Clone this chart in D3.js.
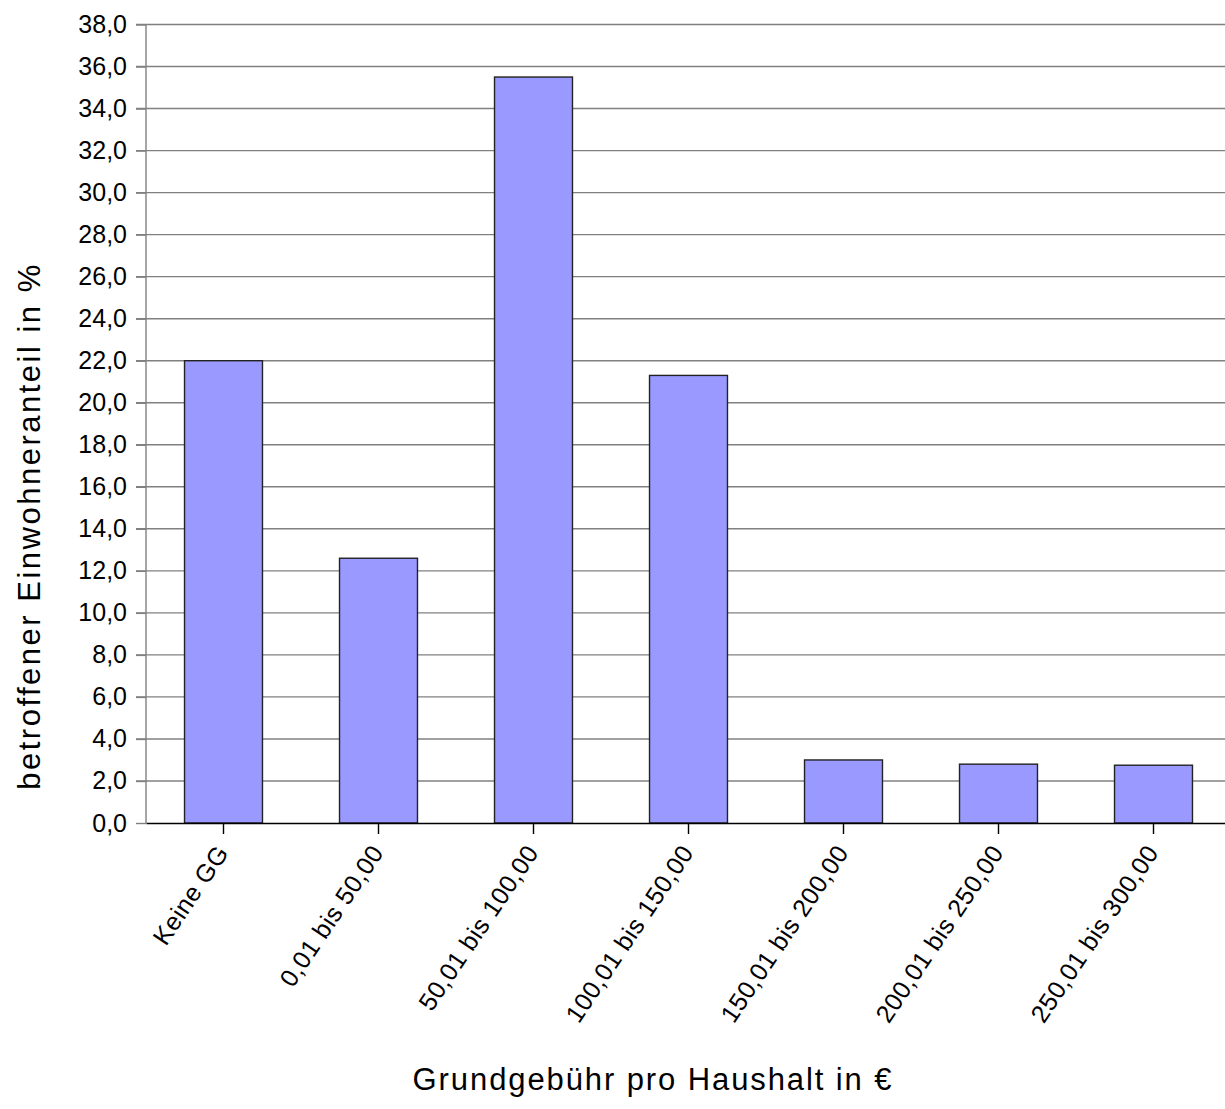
<!DOCTYPE html>
<html>
<head>
<meta charset="utf-8">
<script src="https://cdn.jsdelivr.net/npm/d3@7"></script>
<style>
  body { margin: 0; background: #fff; }
  text { font-family: "Liberation Sans", Arial, sans-serif; fill: #000; }
</style>
</head>
<body>
<div id="svgContainer"></div>
<script>
// chart data
var categories = ["Keine GG", "0,01 bis 50,00", "50,01 bis 100,00", "100,01 bis 150,00",
                  "150,01 bis 200,00", "200,01 bis 250,00", "250,01 bis 300,00"];
var values = [22.0, 12.6, 35.5, 21.3, 3.0, 2.8, 2.75];
var yTicks = [0, 2, 4, 6, 8, 10, 12, 14, 16, 18, 20, 22, 24, 26, 28, 30, 32, 34, 36, 38];

var margin = {top: 24.5, right: -6, bottom: 286, left: 146},
    totalW = 1225, totalH = 1109,
    width = totalW - margin.left - margin.right,
    height = totalH - margin.top - margin.bottom;

var svg = d3.select("#svgContainer")
    .append("svg")
    .attr("width", totalW)
    .attr("height", totalH);

var g = svg.append("g")
    .attr("transform", "translate(" + margin.left + "," + margin.top + ")");

var x = d3.scaleBand()
    .domain(categories)
    .range([0, width])
    .paddingInner(0.497)
    .paddingOuter(0.2485);

var y = d3.scaleLinear()
    .domain([0, 38])
    .range([height, 0]);

var fmt = function(d) { return d3.format(".1f")(d).replace(".", ","); };

// grid lines
g.selectAll(".grid")
    .data(yTicks.filter(function(d) { return d > 0; }))
    .enter().append("line")
    .attr("x1", -10)
    .attr("x2", width)
    .attr("y1", function(d) { return y(d); })
    .attr("y2", function(d) { return y(d); })
    .style("stroke", "#808080")
    .style("stroke-width", 1.4);

// y axis
var yAxis = g.append("g")
    .call(d3.axisLeft(y).tickValues(yTicks).tickFormat(fmt).tickSize(10).tickPadding(9));
yAxis.select(".domain").remove();
yAxis.selectAll(".tick line").style("stroke", "#808080").style("stroke-width", 1.4);
yAxis.selectAll(".tick text").style("font-size", "25px")
    .style("font-family", "'Liberation Sans', Arial, sans-serif");

g.append("line")
    .attr("x1", 0).attr("x2", 0)
    .attr("y1", 0).attr("y2", height)
    .style("stroke", "#808080")
    .style("stroke-width", 1.4);

// bars
g.selectAll(".bar")
    .data(values)
    .enter().append("rect")
    .attr("x", function(d, i) { return x(categories[i]); })
    .attr("y", function(d) { return y(d); })
    .attr("width", x.bandwidth())
    .attr("height", function(d) { return height - y(d); })
    .style("fill", "#9999ff")
    .style("stroke", "#222")
    .style("stroke-width", 1.4);

// x axis
var xAxis = g.append("g")
    .attr("transform", "translate(0," + height + ")")
    .call(d3.axisBottom(x).tickSize(11).tickSizeOuter(0));
xAxis.select(".domain").style("stroke", "#000").style("stroke-width", 1.6);
xAxis.selectAll(".tick line").style("stroke", "#000").style("stroke-width", 1.4);
xAxis.selectAll(".tick text")
    .style("font-size", "25px")
    .style("font-family", "'Liberation Sans', Arial, sans-serif")
    .style("letter-spacing", "0.5px")
    .attr("text-anchor", "end")
    .attr("dy", "0.7em")
    .attr("transform", "translate(-20,12) rotate(-56)");

// axis titles
svg.append("text")
    .attr("x", 653)
    .attr("y", 1090)
    .attr("text-anchor", "middle")
    .style("font-size", "31px")
    .style("letter-spacing", "1.9px")
    .text("Grundgebühr pro Haushalt in €");

svg.append("text")
    .attr("transform", "translate(40,526) rotate(-90)")
    .attr("text-anchor", "middle")
    .style("font-size", "31px")
    .style("letter-spacing", "2.5px")
    .text("betroffener Einwohneranteil in %");
</script>
</body>
</html>
